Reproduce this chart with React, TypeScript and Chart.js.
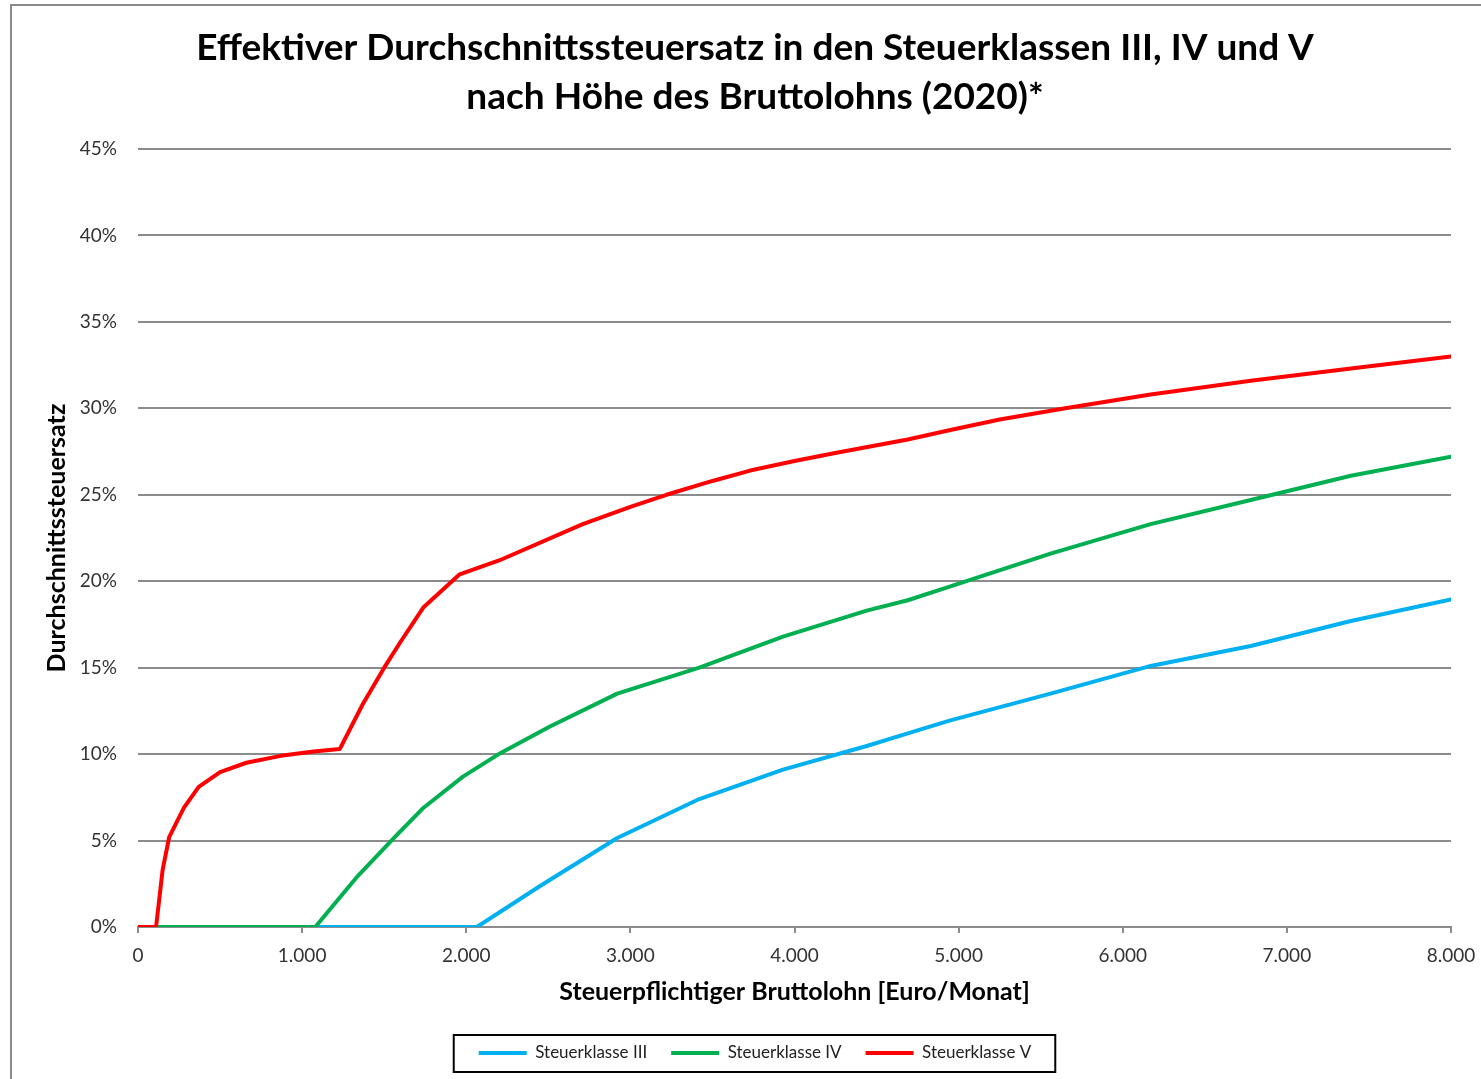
import { useEffect, useRef } from 'react';
import { Chart, registerables } from 'chart.js';

Chart.register(...registerables);

// Steuerklasse III
const incomeIII = [0, 2065, 2450, 2920, 3420, 3930, 4440, 4690, 4950, 5560, 6170, 6780, 7390, 8000];
const rateIII = [0, 0, 2.37, 5.15, 7.4, 9.1, 10.47, 11.2, 11.95, 13.5, 15.1, 16.25, 17.7, 18.95];

// Steuerklasse IV
const incomeIV = [0, 1080, 1330, 1560, 1740, 1980, 2210, 2510, 2920, 3420, 3930, 4440, 4690, 4950, 5560, 6170, 6780, 7390, 8000];
const rateIV = [0, 0, 2.85, 5.16, 6.9, 8.7, 10.07, 11.6, 13.5, 15.0, 16.8, 18.3, 18.9, 19.7, 21.6, 23.3, 24.7, 26.1, 27.2];

// Steuerklasse V
const incomeV = [0, 110, 150, 190, 280, 370, 500, 660, 870, 1070, 1230, 1370, 1500, 1600, 1740, 1960, 2200, 2710, 3000, 3220, 3500, 3730, 4000, 4240, 4690, 4950, 5250, 5650, 6170, 6780, 7390, 8000];
const rateV = [0, 0, 3.3, 5.2, 6.9, 8.1, 8.96, 9.5, 9.9, 10.15, 10.3, 12.9, 15.0, 16.5, 18.5, 20.4, 21.2, 23.3, 24.3, 25.0, 25.8, 26.4, 26.95, 27.4, 28.2, 28.75, 29.35, 30.0, 30.8, 31.6, 32.3, 33.0];

const seriesLabels = ['Steuerklasse III', 'Steuerklasse IV', 'Steuerklasse V'];
const seriesColors = ['#00B0F0', '#00B050', '#FF0000'];

const titleLines = [
  'Effektiver Durchschnittssteuersatz in den Steuerklassen III, IV und V',
  'nach Höhe des Bruttolohns (2020)*',
];
const xTitle = 'Steuerpflichtiger Bruttolohn [Euro/Monat]';
const yTitle = 'Durchschnittssteuersatz';

const FONT = 'Lato, "Open Sans", sans-serif';
const GRID = '#8c8c8c';

const toPoints = (xs: number[], ys: number[]) => xs.map((x, i) => ({ x, y: ys[i] }));
const fmtThousands = (v: number) =>
  v === 0 ? '0' : `${Math.floor(v / 1000)}.${String(v % 1000).padStart(3, '0')}`;

const legendBoxPlugin = {
  id: 'legendBox',
  afterDraw(chart: any) {
    const boxes = chart.legend?.legendHitBoxes;
    if (!boxes || !boxes.length) return;
    const left = Math.min(...boxes.map((b: any) => b.left)) - 25;
    const right = Math.max(...boxes.map((b: any) => b.left + b.width)) + 24;
    const cy = boxes[0].top + boxes[0].height / 2;
    const ctx = chart.ctx;
    ctx.save();
    ctx.strokeStyle = '#000';
    ctx.lineWidth = 2;
    ctx.strokeRect(left, cy - 18, right - left, 37);
    ctx.restore();
  },
};

export default function App() {
  const ref = useRef<HTMLCanvasElement>(null);

  useEffect(() => {
    const datasets = [
      { label: seriesLabels[0], data: toPoints(incomeIII, rateIII), order: 3 },
      { label: seriesLabels[1], data: toPoints(incomeIV, rateIV), order: 2 },
      { label: seriesLabels[2], data: toPoints(incomeV, rateV), order: 1 },
    ].map((d, i) => ({
      ...d,
      borderColor: seriesColors[i],
      backgroundColor: seriesColors[i],
      borderWidth: 4,
      borderCapStyle: 'round' as const,
      borderJoinStyle: 'round' as const,
      pointRadius: 0,
      pointHoverRadius: 0,
      tension: 0,
      fill: false,
    }));

    const chart = new Chart(ref.current!, {
      type: 'line',
      data: { datasets },
      plugins: [legendBoxPlugin],
      options: {
        responsive: false,
        animation: false,
        layout: { padding: { left: 59, right: 30, top: 0, bottom: 7.5 } },
        plugins: {
          title: {
            display: true,
            text: titleLines,
            color: '#000',
            font: { family: FONT, size: 37, weight: 'bold', lineHeight: 49 / 37 },
            padding: { top: 23.5, bottom: 27.5 },
          },
          legend: {
            position: 'bottom',
            labels: {
              usePointStyle: true,
              pointStyle: 'line',
              pointStyleWidth: 48,
              padding: 24,
              color: '#222',
              font: { family: FONT, size: 17 },
              sort: (a: any, b: any) => a.datasetIndex - b.datasetIndex,
            },
          },
          tooltip: { enabled: false },
        },
        scales: {
          x: {
            type: 'linear',
            min: 0,
            max: 8000,
            afterFit(scale: any) {
              scale.height = 93.5;
              scale.paddingLeft = 0;
              scale.paddingRight = 0;
            },
            ticks: {
              stepSize: 1000,
              padding: 11,
              color: '#333',
              font: { family: FONT, size: 19 },
              maxRotation: 0,
              callback: (v: any) => fmtThousands(Number(v)),
            },
            grid: {
              drawOnChartArea: false,
              drawTicks: true,
              tickLength: 6,
              color: GRID,
              lineWidth: 2,
            },
            border: { display: true, color: GRID, width: 2 },
            title: {
              display: true,
              text: xTitle,
              color: '#000',
              font: { family: FONT, size: 25, weight: 'bold', lineHeight: 1.2 },
              padding: { top: 0, bottom: 13.5 },
            },
          },
          y: {
            min: 0,
            max: 45,
            afterFit(scale: any) {
              scale.width = 79;
              scale.paddingTop = 0;
              scale.paddingBottom = 0;
            },
            ticks: {
              stepSize: 5,
              padding: 21,
              color: '#333',
              font: { family: FONT, size: 19 },
              callback: (v: any) => `${v}%`,
            },
            grid: { drawTicks: false, color: GRID, lineWidth: 2 },
            border: { display: false },
            title: {
              display: true,
              text: yTitle,
              color: '#000',
              font: { family: FONT, size: 25, weight: 'bold', lineHeight: 1.2 },
              padding: { top: -17, bottom: 0 },
            },
          },
        },
      },
    });
    return () => chart.destroy();
  }, []);

  return (
    <div
      style={{
        position: 'absolute',
        left: 0,
        top: 0,
        width: 1481,
        height: 1079,
        overflow: 'hidden',
        background: '#fff',
      }}
    >
      <div
        style={{
          position: 'absolute',
          left: 10,
          top: 4,
          width: 1600,
          height: 1200,
          border: '2px solid #8a8a8a',
          boxSizing: 'border-box',
        }}
      />
      <canvas ref={ref} width={1481} height={1079} style={{ position: 'absolute', left: 0, top: 0 }} />
    </div>
  );
}
